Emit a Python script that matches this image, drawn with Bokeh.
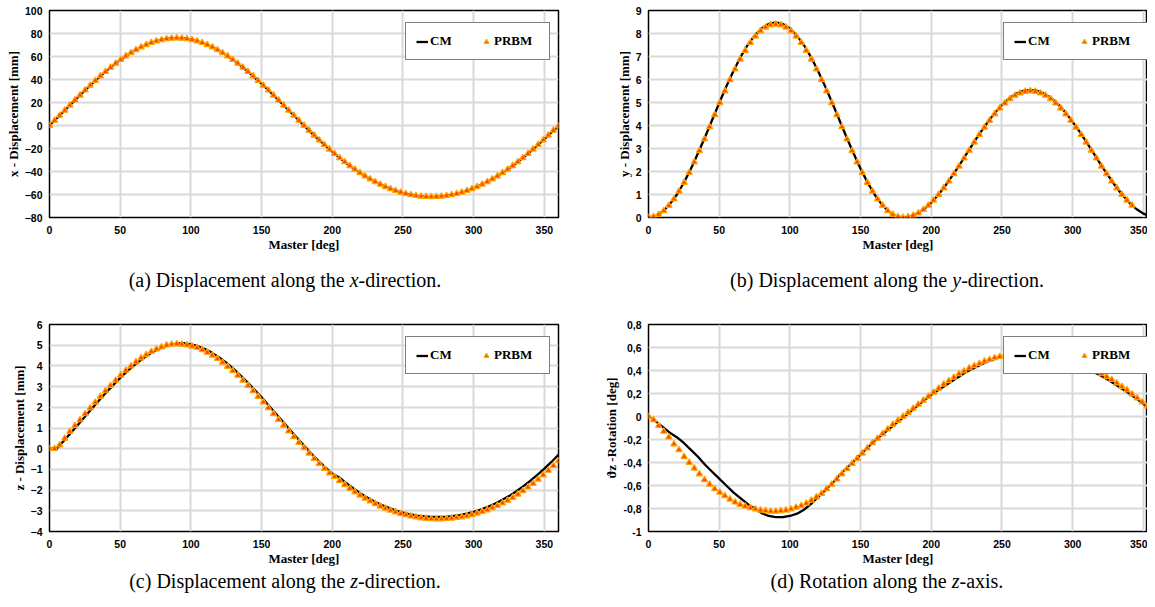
from bokeh.plotting import figure
from bokeh.models import (Range1d, FixedTicker, CustomJSTickFormatter, Legend,
                          LegendItem, Div, ColumnDataSource)
from bokeh.layouts import column, row
from bokeh.embed import file_html
from bokeh.resources import INLINE

# ---------------- data ----------------
CM_X = list(range(0, 361, 5))                      # Master angle [deg], CM model
PRBM_X = [round(3.6 * k, 1) for k in range(101)]   # Master angle [deg], PRBM model

X_TICKS = [0, 50, 100, 150, 200, 250, 300, 350]

CM_XDISP = [0, 6.1, 12.2, 18.3, 24.4, 30.4, 36.3, 41.9, 47.2, 52.3, 57.0, 61.2, 65.0, 68.3, 71.0,
            73.2, 74.7, 75.7, 76.0, 75.7, 74.7, 73.2, 71.0, 68.3, 65.0, 61.2, 57.0, 52.3, 47.2,
            41.9, 36.3, 30.4, 24.4, 18.3, 12.2, 6.1, 0.0, -6.0, -11.8, -17.4, -22.8, -27.9,
            -32.8, -37.3, -41.5, -45.3, -48.7, -51.8, -54.5, -56.8, -58.7, -60.1, -61.2, -61.8,
            -62.0, -61.8, -61.2, -60.1, -58.7, -56.8, -54.5, -51.8, -48.7, -45.3, -41.5, -37.3,
            -32.8, -27.9, -22.8, -17.4, -11.8, -6.0, -0.5]
PRBM_XDISP = [0, 4.4, 8.8, 13.2, 17.6, 22.0, 26.3, 30.7, 34.9, 39.0, 43.0, 46.8, 50.5, 54.0, 57.3,
              60.4, 63.2, 65.8, 68.2, 70.2, 72.0, 73.4, 74.5, 75.3, 75.8, 76.0,
              75.8, 75.3, 74.5, 73.4, 72.0, 70.2, 68.2, 65.8, 63.2, 60.4, 57.3, 54.0, 50.5, 46.8,
              43.0, 39.0, 34.9, 30.7, 26.3, 22.0, 17.6, 13.2, 8.8, 4.4, 0.0,
              -4.3, -8.5, -12.7, -16.7, -20.7, -24.5, -28.1, -31.6, -35.0, -38.1, -41.1, -44.0,
              -46.6, -49.0, -51.2, -53.3, -55.1, -56.7, -58.1, -59.3, -60.3, -61.0, -61.6, -61.9, -62.0,
              -61.9, -61.6, -61.0, -60.3, -59.3, -58.1, -56.7, -55.1, -53.3, -51.2, -49.0, -46.6,
              -44.0, -41.1, -38.1, -35.0, -31.6, -28.1, -24.5, -20.7, -16.7, -12.7, -8.5, -4.3, -0.5]

CM_YDISP = [0, 0.06, 0.26, 0.57, 0.99, 1.51, 2.12, 2.79, 3.50, 4.24, 4.98, 5.69, 6.36, 6.97, 7.49,
            7.91, 8.22, 8.42, 8.48, 8.42, 8.22, 7.91, 7.49, 6.97, 6.36, 5.69, 4.98, 4.24, 3.50,
            2.79, 2.12, 1.51, 0.99, 0.57, 0.26, 0.06, 0.0, 0.04, 0.17, 0.37, 0.65, 0.99, 1.39,
            1.83, 2.29, 2.78, 3.26, 3.72, 4.16, 4.56, 4.90, 5.18, 5.38, 5.51, 5.55, 5.51, 5.38,
            5.18, 4.90, 4.56, 4.16, 3.72, 3.26, 2.78, 2.29, 1.83, 1.39, 0.99, 0.65, 0.37, 0.17,
            0.04, 0.0]
PRBM_YDISP = [0, 0.03, 0.13, 0.29, 0.52, 0.80, 1.14, 1.52, 1.95, 2.41, 2.90, 3.41, 3.94, 4.46,
              4.99, 5.50, 5.99, 6.45, 6.88, 7.26, 7.60, 7.88, 8.11, 8.27, 8.37, 8.40,
              8.37, 8.27, 8.11, 7.88, 7.60, 7.26, 6.88, 6.45, 5.99, 5.50, 4.99, 4.46, 3.94, 3.41,
              2.90, 2.41, 1.95, 1.52, 1.14, 0.80, 0.52, 0.29, 0.13, 0.03, 0.0,
              0.02, 0.09, 0.19, 0.34, 0.53, 0.75, 1.00, 1.28, 1.58, 1.90, 2.23, 2.58, 2.92, 3.27,
              3.60, 3.92, 4.22, 4.50, 4.75, 4.97, 5.16, 5.31, 5.41, 5.48, 5.50,
              5.48, 5.41, 5.31, 5.16, 4.97, 4.75, 4.50, 4.22, 3.92, 3.60, 3.27, 2.92, 2.58, 2.23,
              1.90, 1.58, 1.28, 1.00, 0.75, 0.53]

CM_ZDISP = [0, 0, 0.37, 0.76, 1.15, 1.54, 1.94, 2.33, 2.71, 3.07, 3.42, 3.75, 4.04, 4.31, 4.55,
            4.74, 4.90, 5.01, 5.08, 5.10, 5.04, 4.95, 4.81, 4.63, 4.41, 4.16, 3.87, 3.55, 3.21,
            2.85, 2.48, 2.09, 1.70, 1.31, 0.91, 0.53, 0.15, -0.22, -0.57, -0.90, -1.21, -1.39,
            -1.67, -1.92, -2.16, -2.37, -2.56, -2.72, -2.86, -2.99, -3.09, -3.17, -3.23, -3.27,
            -3.29, -3.30, -3.29, -3.26, -3.21, -3.14, -3.05, -2.94, -2.81, -2.66, -2.48, -2.29,
            -2.07, -1.82, -1.56, -1.27, -0.96, -0.64, -0.29]
PRBM_ZDISP = [0, 0, 0.18, 0.50, 0.83, 1.11, 1.39, 1.68, 1.96, 2.24, 2.52, 2.79, 3.05, 3.30, 3.55,
              3.78, 3.99, 4.19, 4.38, 4.54, 4.69, 4.81, 4.91, 5.00, 5.04, 5.06,
              5.04, 5.01, 4.95, 4.88, 4.78, 4.65, 4.51, 4.35, 4.17, 3.97, 3.76, 3.54, 3.30, 3.05,
              2.79, 2.52, 2.25, 1.97, 1.69, 1.41, 1.13, 0.85, 0.57, 0.30, 0.04,
              -0.22, -0.48, -0.72, -0.96, -1.18, -1.35, -1.55, -1.74, -1.92, -2.09, -2.25, -2.40,
              -2.53, -2.66, -2.78, -2.88, -2.98, -3.06, -3.14, -3.20, -3.26, -3.30, -3.35, -3.37, -3.39,
              -3.40, -3.40, -3.38, -3.36, -3.33, -3.30, -3.25, -3.19, -3.12, -3.04, -2.96, -2.86,
              -2.75, -2.63, -2.50, -2.36, -2.20, -2.04, -1.86, -1.68, -1.48, -1.27, -1.05, -0.82, -0.59]

CM_ROT = [0, -0.04, -0.09, -0.14, -0.18, -0.23, -0.29, -0.35, -0.42, -0.48, -0.54, -0.60, -0.66,
          -0.71, -0.76, -0.80, -0.84, -0.865, -0.875, -0.875, -0.865, -0.845, -0.81, -0.76, -0.70,
          -0.64, -0.58, -0.51, -0.45, -0.39, -0.33, -0.27, -0.21, -0.16, -0.11, -0.06, -0.01,
          0.04, 0.09, 0.14, 0.19, 0.23, 0.27, 0.31, 0.35, 0.39, 0.42, 0.45, 0.48, 0.50, 0.52,
          0.53, 0.54, 0.54, 0.53, 0.525, 0.515, 0.50, 0.49, 0.47, 0.45, 0.43, 0.41, 0.385,
          0.355, 0.32, 0.28, 0.24, 0.20, 0.155, 0.11, 0.06, 0.01]
PRBM_ROT = [0, -0.03, -0.08, -0.13, -0.18, -0.24, -0.29, -0.35, -0.40, -0.45, -0.50, -0.55, -0.59,
            -0.63, -0.66, -0.69, -0.72, -0.745, -0.765, -0.78, -0.795, -0.805, -0.815, -0.82,
            -0.825, -0.825,
            -0.82, -0.815, -0.805, -0.79, -0.775, -0.755, -0.73, -0.70, -0.67, -0.63, -0.59,
            -0.545, -0.50, -0.455, -0.41, -0.365, -0.32, -0.275, -0.23, -0.19, -0.15, -0.11,
            -0.07, -0.035, 0.0,
            0.035, 0.07, 0.105, 0.14, 0.175, 0.21, 0.245, 0.28, 0.31, 0.34, 0.37, 0.395, 0.42,
            0.44, 0.46, 0.48, 0.495, 0.51, 0.52, 0.53, 0.535, 0.54, 0.54, 0.54, 0.535,
            0.53, 0.52, 0.51, 0.50, 0.49, 0.48, 0.47, 0.46, 0.45, 0.435, 0.42, 0.405, 0.39, 0.37,
            0.345, 0.32, 0.29, 0.26, 0.23, 0.195, 0.16, 0.125, 0.09, 0.05, 0.02]

TICKS_A = [-80, -60, -40, -20, 0, 20, 40, 60, 80, 100]
TICKS_B = [0, 1, 2, 3, 4, 5, 6, 7, 8, 9]
TICKS_C = [-4, -3, -2, -1, 0, 1, 2, 3, 4, 5, 6]
TICKS_D = [-1.0, -0.8, -0.6, -0.4, -0.2, 0.0, 0.2, 0.4, 0.6, 0.8]

Y_LABELS = ["x - Displacement [mm]", "y - Displacement [mm]",
            "z - Displacement [mm]", "\u03d1z -Rotation [deg]"]
X_LABEL = "Master [deg]"
SERIES = ["CM", "PRBM"]
CAPTIONS = ["(a) Displacement along the <i>x</i>-direction.",
            "(b) Displacement along the <i>y</i>-direction.",
            "(c) Displacement along the <i>z</i>-direction.",
            "(d) Rotation along the <i>z</i>-axis."]

# ---------------- styling / layout ----------------
COL1_W, COL2_W = 600, 547
SERIF = "Liberation Serif"
SANS = "Liberation Sans"


def make_panel(cm_y, px, py, yr, ticks, ylabel, col, top, height, formatter=None):
    if col == 1:
        width, bl, br, xend, lx = COL1_W, 49, 42, 360, 356
    else:
        width, bl, br, xend, lx = COL2_W, 48, 0, 352.9, 355
    bb = height - top - 207
    p = figure(width=width, height=height, x_range=Range1d(0, xend), y_range=Range1d(*yr),
               output_backend="svg", toolbar_location=None,
               min_border_left=bl, min_border_right=br, min_border_top=top,
               min_border_bottom=bb)
    p.background_fill_color = "white"
    p.border_fill_color = "white"
    p.outline_line_color = "black"
    p.outline_line_width = 1.5
    p.xaxis.ticker = FixedTicker(ticks=X_TICKS)
    p.yaxis.ticker = FixedTicker(ticks=ticks)
    for g in (p.xgrid[0], p.ygrid[0]):
        g.grid_line_color = "#d9d9d9"
        g.grid_line_width = 2
    for ax in (p.xaxis[0], p.yaxis[0]):
        ax.axis_line_color = None
        ax.major_tick_line_color = None
        ax.minor_tick_line_color = None
        ax.major_tick_out = 0
        ax.major_tick_in = 0
        ax.minor_tick_out = 0
        ax.minor_tick_in = 0
        ax.major_label_text_font = SANS
        ax.major_label_text_font_style = "bold"
        ax.major_label_text_font_size = "10.5px"
        ax.major_label_text_color = "black"
        ax.axis_label_text_font = SERIF
        ax.axis_label_text_font_style = "bold"
        ax.axis_label_text_font_size = "13px"
        ax.axis_label_text_color = "black"
    p.xaxis.major_label_standoff = 8
    p.xaxis.axis_label_standoff = 0
    p.yaxis.major_label_standoff = 7
    p.yaxis.axis_label_standoff = 1
    p.xaxis.axis_label = X_LABEL
    p.yaxis.axis_label = ylabel
    if formatter is not None:
        p.yaxis.formatter = formatter

    src_cm = ColumnDataSource(dict(x=CM_X, y=cm_y))
    src_pr = ColumnDataSource(dict(x=px, y=py))
    r1 = p.line("x", "y", source=src_cm, line_color="black", line_width=2.3)
    r2 = p.scatter("x", "y", source=src_pr, marker="triangle", size=6.3,
                   fill_color="#FF4500", line_color="#FFA500", line_width=1.2)
    leg = Legend(items=[LegendItem(label=SERIES[0], renderers=[r1]),
                        LegendItem(label=SERIES[1], renderers=[r2])],
                 orientation="horizontal", location=(lx, 157))
    leg.border_line_color = "black"
    leg.border_line_width = 1.3
    leg.background_fill_color = "white"
    leg.background_fill_alpha = 1.0
    leg.label_text_font = SERIF
    leg.label_text_font_style = "bold"
    leg.label_text_font_size = "13px"
    leg.label_text_color = "black"
    leg.glyph_width = 12
    leg.glyph_height = 15
    leg.label_standoff = 2
    leg.label_width = 45
    leg.label_height = 15
    leg.spacing = 5
    leg.padding = 10
    leg.margin = 0
    p.add_layout(leg)
    return p


def caption(html, width, height, pad_l, pad_r):
    inner = ('<div style="box-sizing:border-box;width:%dpx;padding-left:%dpx;padding-right:%dpx;'
             'text-align:center;font-family:\'Liberation Serif\',serif;font-size:20px;'
             'line-height:20px;color:black;white-space:nowrap;">%s</div>'
             % (width, pad_l, pad_r, html))
    return Div(text=inner, width=width, height=height, margin=0)


comma_fmt = CustomJSTickFormatter(
    code="return tick.toFixed(1).replace('.', ',').replace(/,0$/, '');")

pa = make_panel(CM_XDISP, PRBM_X, PRBM_XDISP, (-80, 100), TICKS_A, Y_LABELS[0], 1, 10, 270)
pb = make_panel(CM_YDISP, PRBM_X[:len(PRBM_YDISP)], PRBM_YDISP, (0, 9), TICKS_B, Y_LABELS[1], 2, 10, 270)
pc = make_panel(CM_ZDISP, PRBM_X, PRBM_ZDISP, (-4, 6), TICKS_C, Y_LABELS[2], 1, 9, 256)
pd = make_panel(CM_ROT, PRBM_X, PRBM_ROT, (-1, 0.8), TICKS_D, Y_LABELS[3], 2, 9, 256,
                formatter=comma_fmt)

cap_a = caption(CAPTIONS[0], COL1_W, 45, 0, 30)
cap_b = caption(CAPTIONS[1], COL2_W, 45, 27, 0)
cap_c = caption(CAPTIONS[2], COL1_W, 20, 0, 30)
cap_d = caption(CAPTIONS[3], COL2_W, 20, 27, 0)

layout = column(row(pa, pb, spacing=0), row(cap_a, cap_b, spacing=0),
                row(pc, pd, spacing=0), row(cap_c, cap_d, spacing=0), spacing=0)

open("out.html", "w").write(file_html(layout, INLINE))
